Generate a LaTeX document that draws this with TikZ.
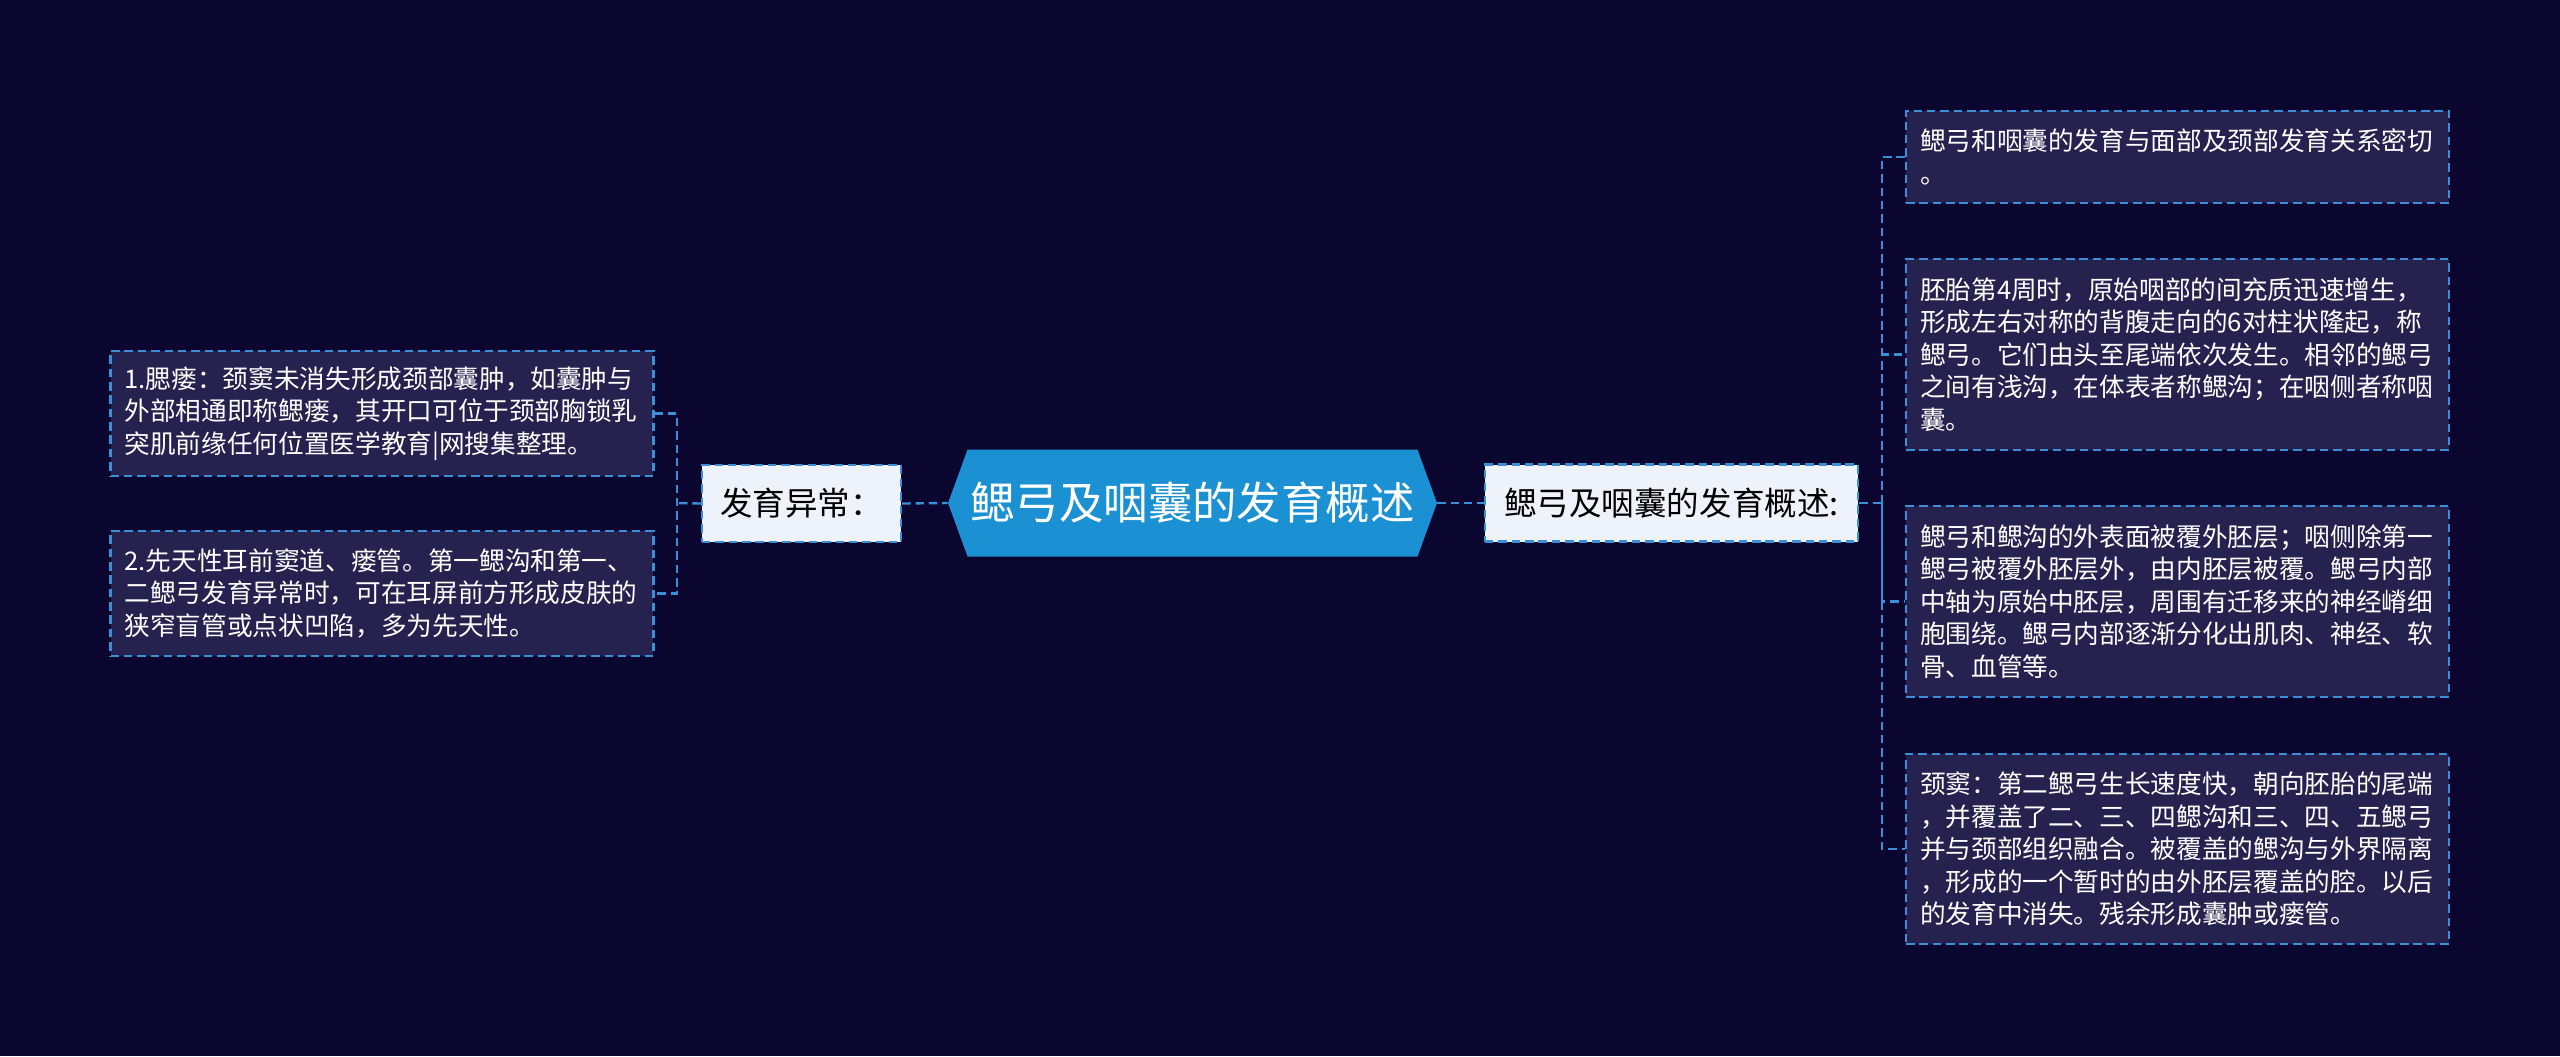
\documentclass[tikz,border=0pt]{standalone}
\usepackage{fontspec}
\setmainfont{Noto Sans CJK SC}
\usepackage{tikz}
\usetikzlibrary{shapes.symbols}
\definecolor{bgc}{HTML}{0A0630}
\definecolor{leafc}{HTML}{25224F}
\definecolor{linec}{HTML}{3A8FD6}
\definecolor{mainc}{HTML}{1B90D2}
\definecolor{tagc}{HTML}{EEF3FB}
\tikzset{
  link/.style={draw=linec, line width=1.35pt, dash pattern=on 4.8pt off 2.8pt},
  leaf/.style={link, fill=leafc, text=white, align=left, text width=10.3cm,
    inner xsep=0.28cm, inner ysep=0pt,
    font=\fontsize{14.6pt}{18.5pt}\selectfont},
  tag/.style={link, fill=tagc, text=black, inner sep=0pt, minimum height=1.54cm,
    font=\fontsize{18.5pt}{22pt}\selectfont},
  title/.style={shape=signal, signal to=west and east, signal pointer angle=140,
    fill=mainc, text=white, inner sep=0pt, minimum width=9.78cm, minimum height=2.14cm,
    font=\fontsize{25.3pt}{30pt}\selectfont}
}
\begin{document}
\begin{tikzpicture}[x=0.02cm,y=-0.02cm]
                \fill[bgc] (0,0) rectangle (2560,1056);

                \node[title] (title) at (1192.5,503) {鳃弓及咽囊的发育概述};
                \node[tag, minimum width=3.98cm] (anom) at (801.5,503.5) {发育异常：};
                \node[tag, minimum width=7.46cm] (summ) at (1671.5,503) {鳃弓及咽囊的发育概述:};

                \node[leaf, minimum height=2.5cm] (lbox1) at (382,413.5) {1.腮瘘：颈窦未消失形成颈部囊肿，如囊肿与\\外部相通即称鳃瘘，其开口可位于颈部胸锁乳\\突肌前缘任何位置医学教育|网搜集整理。};
                \node[leaf, minimum height=2.5cm] (lbox2) at (382,593.5) {2.先天性耳前窦道、瘘管。第一鳃沟和第一、\\二鳃弓发育异常时，可在耳屏前方形成皮肤的\\狭窄盲管或点状凹陷，多为先天性。};

                \node[leaf, minimum height=1.84cm] (rbox1) at (2177.5,157) {鳃弓和咽囊的发育与面部及颈部发育关系密切\\。};
                \node[leaf, minimum height=3.82cm] (rbox2) at (2177.5,354.5) {胚胎第4周时，原始咽部的间充质迅速增生，\\形成左右对称的背腹走向的6对柱状隆起，称\\鳃弓。它们由头至尾端依次发生。相邻的鳃弓\\之间有浅沟，在体表者称鳃沟；在咽侧者称咽\\囊。};
                \node[leaf, minimum height=3.82cm] (rbox3) at (2177.5,601.5) {鳃弓和鳃沟的外表面被覆外胚层；咽侧除第一\\鳃弓被覆外胚层外，由内胚层被覆。鳃弓内部\\中轴为原始中胚层，周围有迁移来的神经嵴细\\胞围绕。鳃弓内部逐渐分化出肌肉、神经、软\\骨、血管等。};
                \node[leaf, minimum height=3.8cm] (rbox4) at (2177.5,849) {颈窦：第二鳃弓生长速度快，朝向胚胎的尾端\\，并覆盖了二、三、四鳃沟和三、四、五鳃弓\\并与颈部组织融合。被覆盖的鳃沟与外界隔离\\，形成的一个暂时的由外胚层覆盖的腔。以后\\的发育中消失。残余形成囊肿或瘘管。};

                % junctions of the brackets
                \coordinate (lj) at (677,503);
                \coordinate (rj) at (1882,503);

                \draw[link] (anom.east) -- (title.west);
                \draw[link] (title.east) -- (summ.west);
                \draw[link] (anom.west) -- (lj);
                \draw[link] (summ.east) -- (rj);
                \draw[link] (lbox1.east) -| (lj) |- (lbox2.east);
                \draw[link] (rbox1.west) -| (rj) |- (rbox4.west);
                \draw[link] (rj) |- (rbox2.west);
                \draw[link] (rj) |- (rbox3.west);
\end{tikzpicture}
\end{document}
